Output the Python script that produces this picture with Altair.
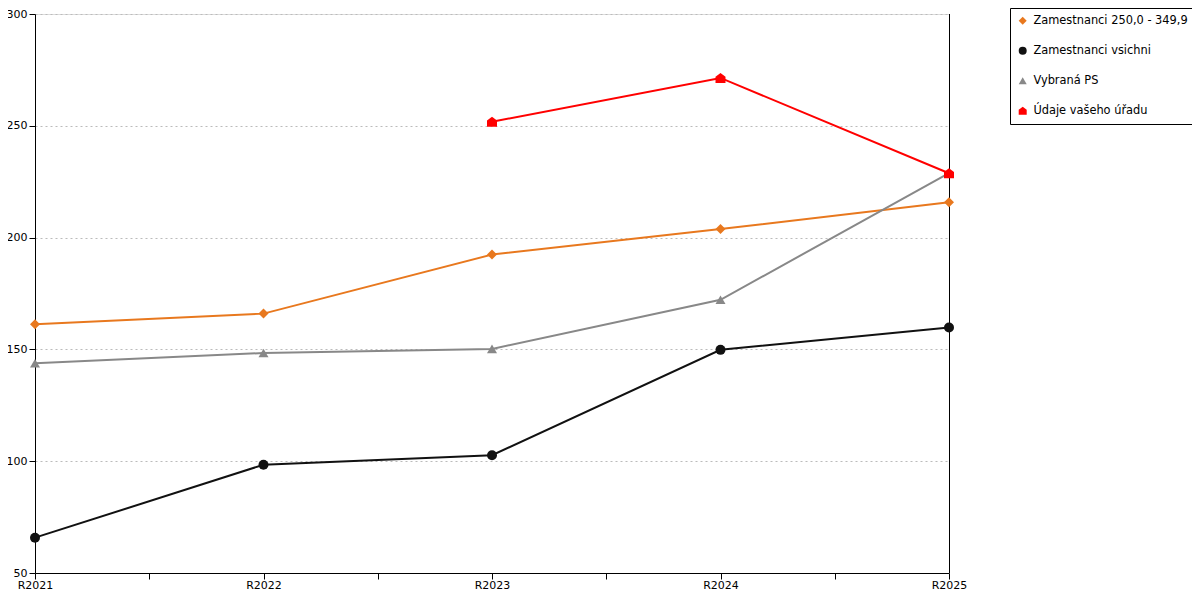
import altair as alt
import pandas as pd

categories = ["R2021", "R2022", "R2023", "R2024", "R2025"]
series_names = ["Zamestnanci 250,0 - 349,9", "Zamestnanci vsichni", "Vybraná PS", "Údaje vašeho úřadu"]
orange_vals = [161.2, 166.0, 192.4, 203.8, 215.8]
black_vals = [65.8, 98.4, 102.7, 149.8, 159.8]
gray_vals = [143.8, 148.4, 150.2, 172.2, 228.8]
red_vals = [None, None, 251.8, 271.4, 228.8]
colors = ["#E8781E", "#111111", "#888888", "#FF0000"]
house = "M-1,1L-1,-0.25L0,-1L1,-0.25L1,1Z"
shapes = ["diamond", "circle", "triangle-up", house]

rows = []
for name, vals in zip(series_names, [orange_vals, black_vals, gray_vals, red_vals]):
    for cat, v in zip(categories, vals):
        if v is not None:
            rows.append({"series": name, "cat": cat, "year": int(cat[1:]), "value": v})
df = pd.DataFrame(rows)

tick_values = [2021, 2021.5, 2022, 2022.5, 2023, 2023.5, 2024, 2024.5, 2025]

x_enc = alt.X(
    "year:Q",
    scale=alt.Scale(domain=[2021, 2025], nice=False, zero=False),
    axis=alt.Axis(
        values=tick_values,
        labelExpr="datum.value % 1 == 0 ? 'R' + datum.value : ''",
        title=None,
        grid=False,
        domainColor="black",
        tickColor="black",
        tickSize=6,
        labelColor="black",
        labelFontSize=11,
        labelFont="DejaVu Sans",
        labelFlush=False,
        labelPadding=0,
        labelOverlap=False,
    ),
)
y_enc = alt.Y(
    "value:Q",
    scale=alt.Scale(domain=[50, 300], nice=False, zero=False),
    axis=alt.Axis(
        values=[50, 100, 150, 200, 250, 300],
        title=None,
        grid=True,
        gridDash=[2, 3],
        gridColor="#bbbbbb",
        domainColor="black",
        tickColor="black",
        tickSize=6,
        labelColor="black",
        labelFontSize=11,
        labelFont="DejaVu Sans",
        labelPadding=2,
    ),
)

legend_props = dict(
    title=None,
    orient="none",
    legendX=975,
    legendY=-6,
    strokeColor="black",
    fillColor="white",
    padding=7,
    rowPadding=17,
    symbolSize=64,
    labelFontSize=11.4,
    labelFont="DejaVu Sans",
    labelColor="black",
    labelOffset=5,
    labelLimit=400,
    symbolStrokeWidth=0,
)

line_layers = []
for name, c in zip(series_names, colors):
    line_layers.append(
        alt.Chart(df[df["series"] == name]).mark_line(strokeWidth=2, color=c).encode(
            x=x_enc, y=y_enc, order="year:Q"
        )
    )

points = alt.Chart(df).mark_point(filled=True, opacity=1, size=100).encode(
    x=x_enc,
    y=y_enc,
    color=alt.Color("series:N", scale=alt.Scale(domain=series_names, range=colors), legend=alt.Legend(**legend_props)),
    shape=alt.Shape("series:N", scale=alt.Scale(domain=series_names, range=shapes), legend=alt.Legend(**legend_props)),
)

right_rule = alt.Chart(df).mark_rule(color="black", strokeWidth=1, xOffset=0.5).encode(x=alt.datum(2025))

chart = (
    alt.layer(*line_layers, right_rule, points)
    .properties(
        width=914,
        height=559,
        autosize=alt.AutoSizeParams(type="none"),
        padding={"left": 27, "top": 6, "right": 243, "bottom": 19},
    )
    .configure_view(stroke=None)
    .configure(background="white")
)

chart.save("out.html", embed_options={"renderer": "svg", "actions": False})
